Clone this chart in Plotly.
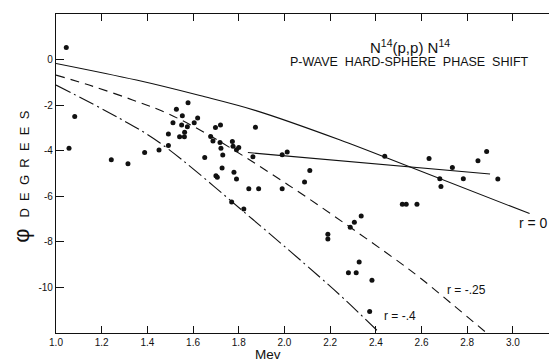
import plotly.graph_objects as go

# Measured phase shifts (Mev, degrees)
energy = [1.045, 1.082, 1.057, 1.242, 1.315, 1.388, 1.451, 1.492, 1.492, 1.512,
          1.527, 1.578, 1.553, 1.550, 1.575, 1.563, 1.541, 1.562, 1.605, 1.620,
          1.651, 1.677, 1.687, 1.698, 1.720, 1.718, 1.722, 1.730, 1.727, 1.700,
          1.706, 1.772, 1.775, 1.790, 1.800, 1.779, 1.790, 1.769, 1.822, 1.873,
          1.862, 1.844, 1.887, 1.990, 1.990, 2.012, 2.111, 2.088, 2.439, 2.633,
          2.735, 2.847, 2.885, 2.783, 2.934, 2.680, 2.685, 2.516, 2.533, 2.580,
          2.336, 2.306, 2.288, 2.190, 2.190, 2.327, 2.280, 2.314, 2.383, 2.373]
phase = [0.53, -2.50, -3.89, -4.40, -4.57, -4.08, -3.97, -3.77, -3.27, -2.77,
         -2.18, -1.89, -2.47, -2.87, -2.95, -3.19, -3.39, -3.39, -2.77, -2.56,
         -4.30, -3.38, -3.57, -2.98, -2.87, -3.64, -3.89, -4.19, -4.76, -5.10,
         -5.17, -3.60, -3.80, -3.96, -3.86, -4.95, -5.24, -6.25, -6.56, -2.97,
         -4.27, -5.67, -5.67, -5.67, -4.18, -4.06, -4.87, -5.37, -4.24, -4.34,
         -4.74, -4.44, -4.03, -5.23, -5.24, -5.23, -5.57, -6.35, -6.35, -6.35,
         -6.86, -7.14, -7.36, -7.67, -7.87, -8.88, -9.36, -9.36, -9.68, -11.06]

# Hard-sphere curves
r0_x = [1.0, 1.352, 1.63, 1.875, 2.241, 2.556, 3.073]
r0_y = [-0.17, -0.90, -1.58, -2.24, -3.52, -4.74, -6.76]
r25_x = [1.0, 1.145, 1.335, 1.48, 1.65, 2.015, 2.475, 2.594, 2.73, 2.885]
r25_y = [-0.68, -1.12, -1.77, -2.33, -3.20, -5.49, -8.69, -9.58, -10.70, -12.0]
r4_x = [1.0, 1.276, 1.454, 1.862, 2.153, 2.263, 2.417]
r4_y = [-1.12, -2.57, -3.65, -7.02, -9.53, -10.52, -12.0]
fit_x = [1.84, 2.90]
fit_y = [-4.08, -5.02]

x_ticks = [1.0, 1.2, 1.4, 1.6, 1.8, 2.0, 2.2, 2.4, 2.6, 2.8, 3.0]
x_labels = ["1.0", "1.2", "1.4", "1.6", "1.8", "2.0", "2.2", "2.4", "2.6", "2.8", "3.0"]
y_ticks = [0, -2, -4, -6, -8, -10]
y_labels = ["0", "-2", "-4", "-6", "-8", "-10"]

ink = "#111111"
fig = go.Figure()
fig.add_trace(go.Scatter(x=r0_x, y=r0_y, mode="lines", line=dict(color=ink, width=1.1, shape="spline")))
fig.add_trace(go.Scatter(x=r25_x, y=r25_y, mode="lines", line=dict(color=ink, width=1.1, dash="9px,6px", shape="spline")))
fig.add_trace(go.Scatter(x=r4_x, y=r4_y, mode="lines", line=dict(color=ink, width=1.1, dash="16px,4px,2px,4px", shape="spline")))
fig.add_trace(go.Scatter(x=fit_x, y=fit_y, mode="lines", line=dict(color=ink, width=1.1)))
fig.add_trace(go.Scatter(x=energy, y=phase, mode="markers", marker=dict(color=ink, size=5)))

font = "Liberation Sans, Arial, sans-serif"
fig.update_layout(
    width=549, height=364,
    margin=dict(l=56, r=0, t=14, b=31),
    paper_bgcolor="white", plot_bgcolor="white",
    showlegend=False,
    font=dict(family=font, color=ink),
    xaxis=dict(range=[1.0, 3.158], tickvals=x_ticks, ticktext=x_labels,
               ticks="inside", ticklen=7, tickcolor=ink, showline=True, linecolor=ink,
               linewidth=1.2, mirror="ticks", showgrid=False, zeroline=False,
               tickfont=dict(size=10, family=font)),
    yaxis=dict(range=[-12, 2], tickvals=y_ticks, ticktext=y_labels,
               ticks="inside", ticklen=8, tickcolor=ink, showline=True, linecolor=ink,
               linewidth=1.2, showgrid=False, zeroline=False,
               tickfont=dict(size=10, family=font)),
)

anns = [
    dict(x=0.718, y=0.897, xref="paper", yref="paper", text="N<sup>14</sup>(p,p) N<sup>14</sup>",
         showarrow=False, font=dict(size=15), xanchor="center", yanchor="middle"),
    dict(x=0.718, y=0.85, xref="paper", yref="paper", text="P-WAVE  HARD-SPHERE  PHASE  SHIFT",
         showarrow=False, font=dict(size=12.5), xanchor="center", yanchor="middle"),
    dict(x=3.017, y=-7.17, xref="x", yref="y", text="r = 0", showarrow=False,
         font=dict(size=14), xanchor="left", yanchor="middle"),
    dict(x=2.702, y=-10.12, xref="x", yref="y", text="r = -.25", showarrow=False,
         font=dict(size=12), xanchor="left", yanchor="middle"),
    dict(x=2.427, y=-11.26, xref="x", yref="y", text="r = -.4", showarrow=False,
         font=dict(size=12), xanchor="left", yanchor="middle"),
    dict(x=0.43, y=-0.068, xref="paper", yref="paper", text="Mev", showarrow=False,
         font=dict(size=13.5), xanchor="center", yanchor="middle"),
    dict(x=-0.069, y=0.49, xref="paper", yref="paper",
         text="<span style='font-size:22px'>φ</span>   D  E  G  R  E  E  S", textangle=-90,
         showarrow=False, font=dict(size=13), xanchor="center", yanchor="middle"),
]
fig.update_layout(annotations=anns)
fig.write_html("out.html", config={"displayModeBar": False},
               post_script="document.body.style.margin='0';")
